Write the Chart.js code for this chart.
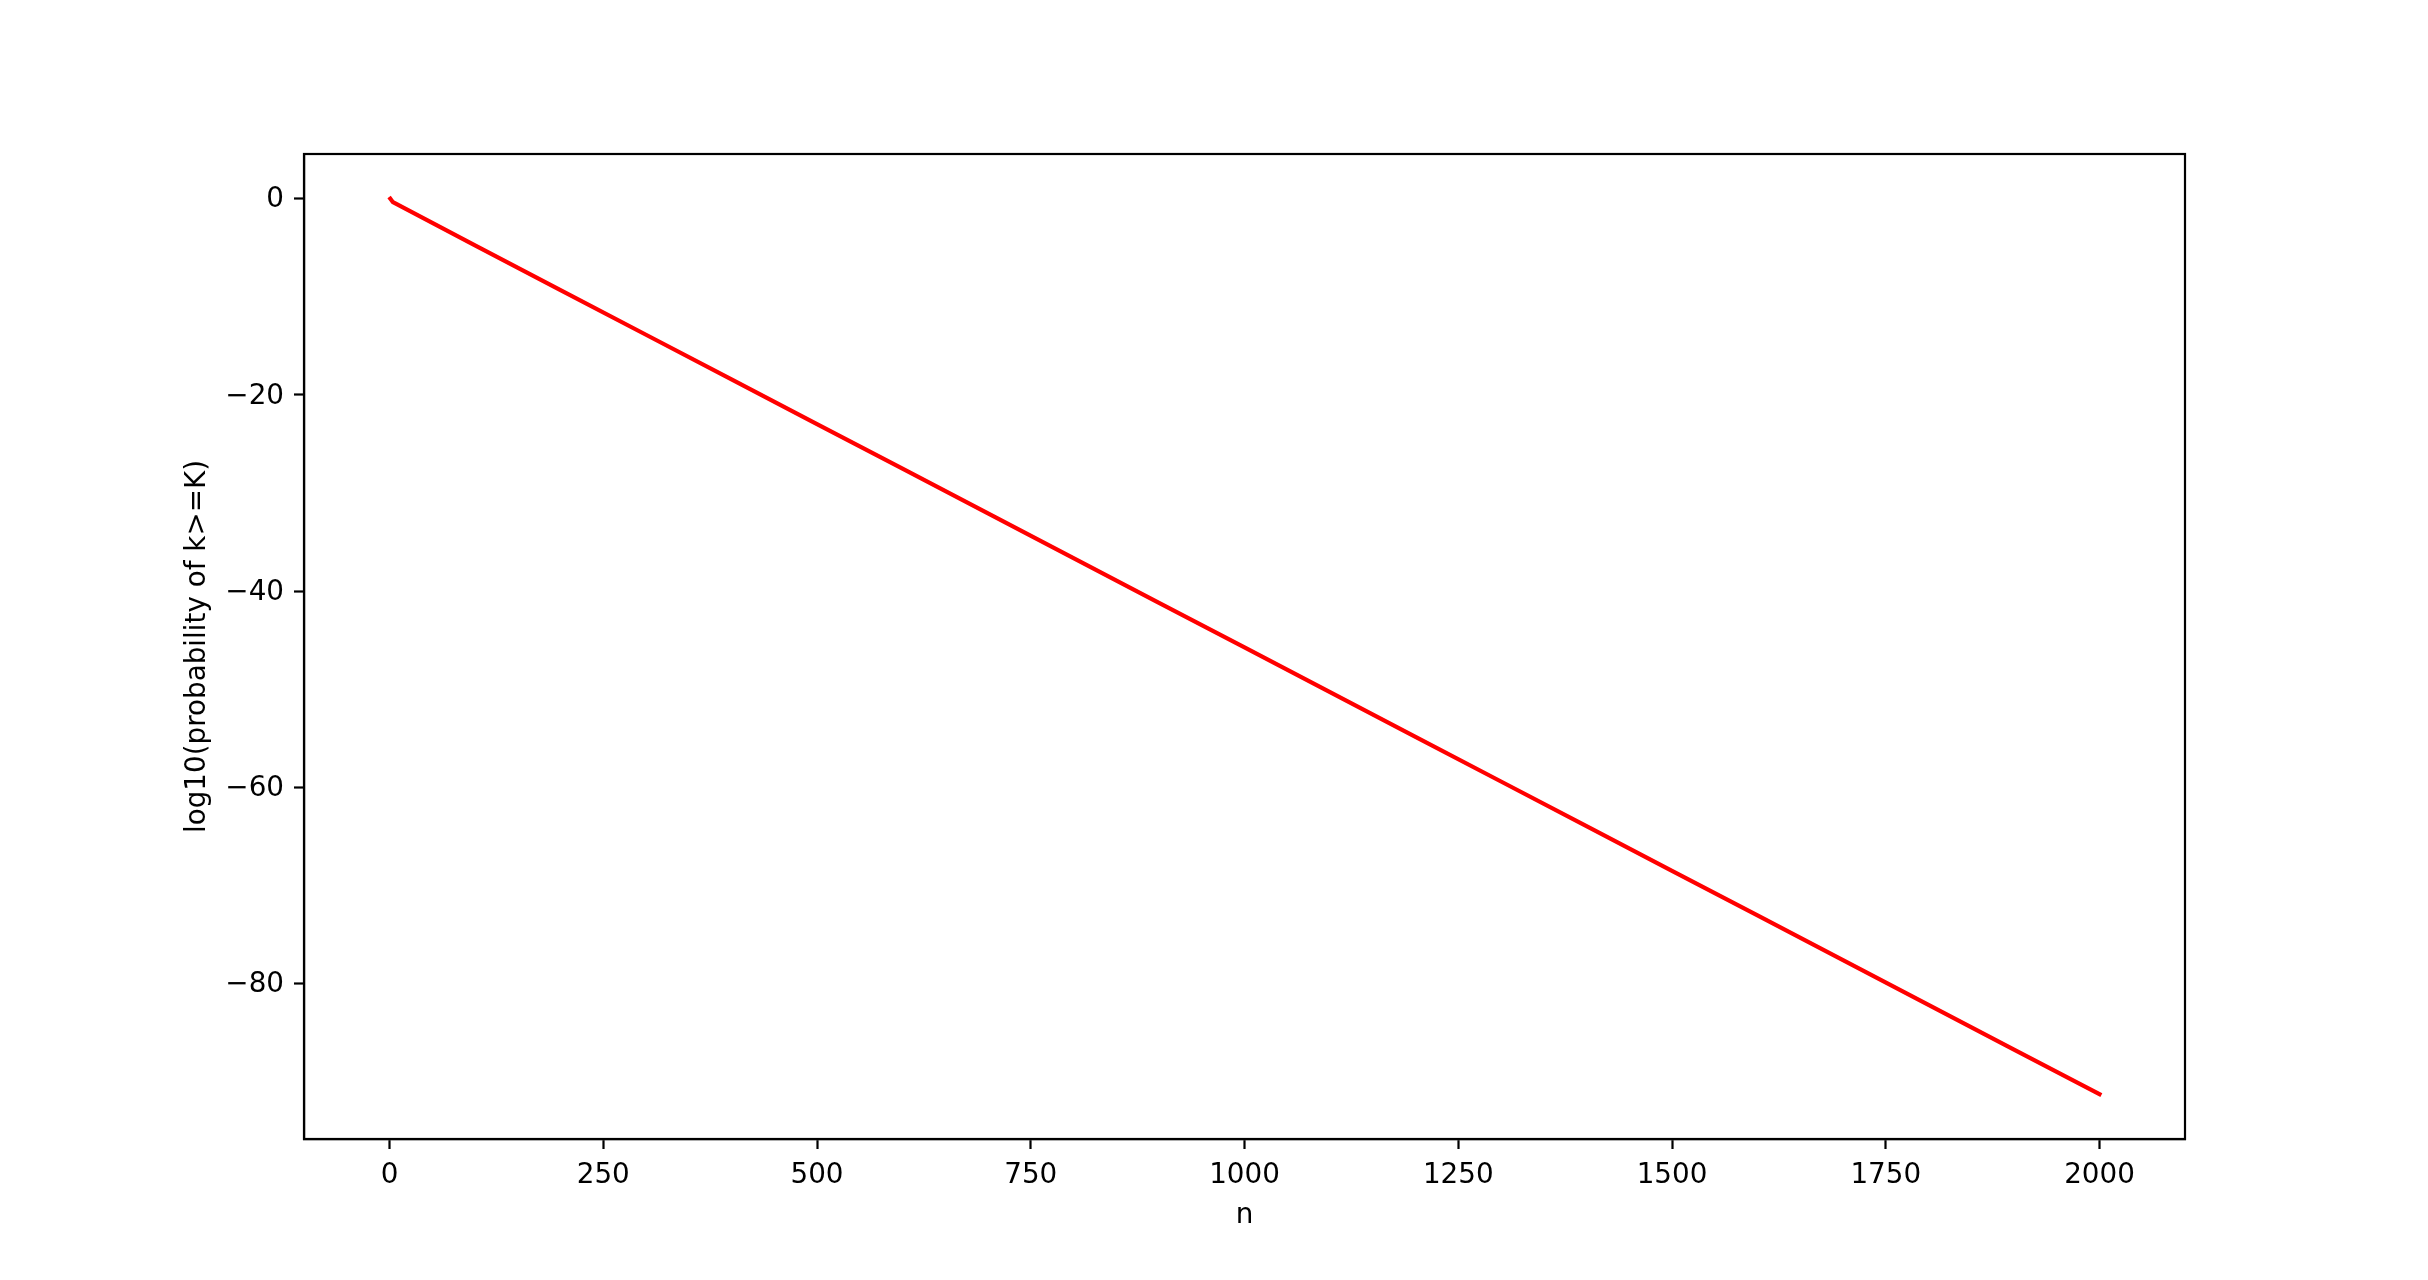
<!DOCTYPE html>
<html>
<head>
<meta charset="utf-8">
<script src="https://cdn.jsdelivr.net/npm/chart.js@4/dist/chart.umd.min.js"></script>
<style>
  html, body { margin: 0; padding: 0; background: #ffffff; }
  #wrap { width: 2428px; height: 1280px; }
</style>
</head>
<body>
<div id="wrap"><canvas id="c" width="2428" height="1280"></canvas></div>
<script>
// ---- data ----
const nValues = [1, 4, 100, 200, 300, 400, 500, 600, 700, 800, 900, 1000,
                 1100, 1200, 1300, 1400, 1500, 1600, 1700, 1800, 1900, 2000];
const logProb = [0, -0.35, -4.76, -9.31, -13.87, -18.42, -22.98, -27.53, -32.09, -36.64, -41.2, -45.75,
                 -50.31, -54.86, -59.42, -63.97, -68.53, -73.08, -77.64, -82.19, -86.75, -91.3];
const xTicks = [0, 250, 500, 750, 1000, 1250, 1500, 1750, 2000];
const xTickLabels = ['0', '250', '500', '750', '1000', '1250', '1500', '1750', '2000'];
const yTicks = [-80, -60, -40, -20, 0];
const yTickLabels = ['\u221280', '\u221260', '\u221240', '\u221220', '0'];
const xTitle = 'n';
const yTitle = 'log10(probability of k>=K)';

const FONT = { family: "'DejaVu Sans'", size: 27.8 };

const points = nValues.map((n, i) => ({ x: n, y: logProb[i] }));

const frame = {
  id: 'frame',
  afterDraw(chart) {
    const { ctx, chartArea: a } = chart;
    ctx.save();
    ctx.strokeStyle = '#000';
    ctx.lineWidth = 2.2;
    ctx.strokeRect(a.left, a.top, a.right - a.left, a.bottom - a.top);
    ctx.restore();
  }
};

new Chart(document.getElementById('c'), {
  type: 'line',
  data: {
    datasets: [{
      data: points,
      borderColor: '#ff0000',
      borderWidth: 4.2,
      pointRadius: 0,
      tension: 0,
      fill: false,
      borderCapStyle: 'square'
    }]
  },
  options: {
    responsive: false,
    animation: false,
    devicePixelRatio: 1,
    layout: { padding: { left: 181, right: 243, top: 154, bottom: 48 } },
    plugins: { legend: { display: false }, tooltip: { enabled: false } },
    scales: {
      x: {
        type: 'linear',
        min: -100, max: 2100,
        afterBuildTicks: s => { s.ticks = xTicks.map(v => ({ value: v })); },
        afterFit: s => { s.height = 93; },
        ticks: {
          color: '#000', font: FONT, padding: 10, maxRotation: 0, autoSkip: false,
          callback: (v) => { const i = xTicks.indexOf(v); return i >= 0 ? xTickLabels[i] : ''; }
        },
        grid: { drawOnChartArea: false, drawTicks: true, tickLength: 10, tickWidth: 2.2, tickColor: '#000' },
        border: { display: true, color: '#000', width: 2.2 },
        title: { display: true, text: xTitle, color: '#000', font: FONT, padding: 0 }
      },
      y: {
        type: 'linear',
        min: -95.87, max: 4.56,
        afterBuildTicks: s => { s.ticks = yTicks.map(v => ({ value: v })); },
        afterFit: s => { s.width = 123; },
        ticks: {
          color: '#000', font: FONT, padding: 10, autoSkip: false, labelOffset: 1.5,
          callback: (v) => { const i = yTicks.indexOf(v); return i >= 0 ? yTickLabels[i] : ''; }
        },
        grid: { drawOnChartArea: false, drawTicks: true, tickLength: 10, tickWidth: 2.2, tickColor: '#000' },
        border: { display: true, color: '#000', width: 2.2 },
        title: { display: true, text: yTitle, color: '#000', font: FONT, padding: 0 }
      }
    }
  },
  plugins: [frame]
});
</script>
</body>
</html>
